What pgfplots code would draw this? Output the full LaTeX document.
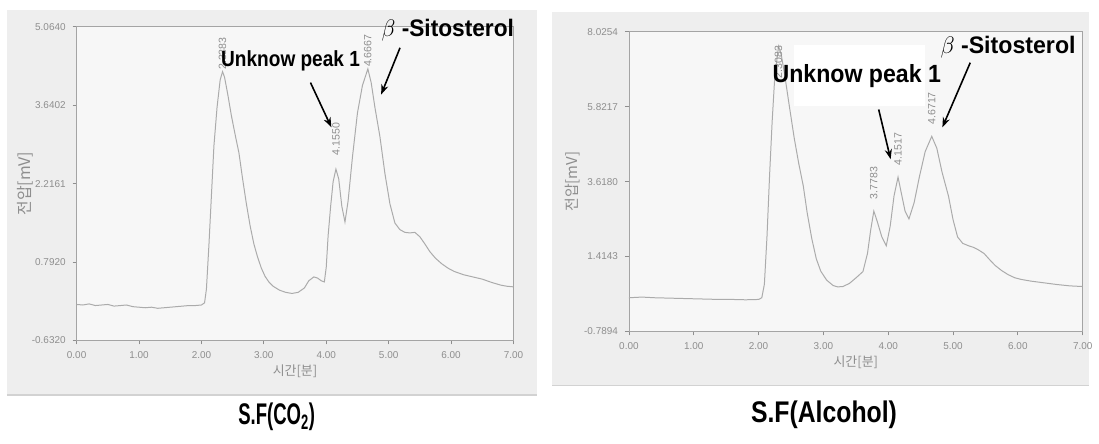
\documentclass[border=0pt]{standalone}
\usepackage{fontspec}
\setmainfont{Liberation Sans}
\newfontfamily\kr{Noto Sans CJK KR}
\usepackage{pgfplots}
\pgfplotsset{compat=1.18}
\usetikzlibrary{arrows.meta}

\definecolor{panel}{HTML}{EEEEEE}
\definecolor{plotbg}{HTML}{F7F7F7}
\definecolor{trace}{HTML}{ABABAB}
\definecolor{tickgray}{HTML}{8E8E8E}

\pgfplotsset{chrom/.style={
  scale only axis, anchor=south west,
  xmin=0, xmax=7, xtick={0,1,...,7},
  axis background/.style={fill=plotbg},
  axis line style={tickgray!80},
  tick style={tickgray, line width=0.4pt}, major tick length=2pt, tick align=outside,
  xtick pos=bottom, ytick pos=left,
  /pgf/number format/assume math mode=true,
  ticklabel style={font=\fontsize{5}{6}\selectfont, text=tickgray},
  xticklabel style={/pgf/number format/fixed, /pgf/number format/fixed zerofill, /pgf/number format/precision=2},
  yticklabel style={/pgf/number format/fixed, /pgf/number format/fixed zerofill, /pgf/number format/precision=4},
  xlabel={\kr 시간[분]}, ylabel={\kr 전압[mV]},
  label style={text=tickgray},
  xlabel style={font=\fontsize{6.5}{7}\selectfont, at={(axis description cs:0.5,0)}, anchor=center, yshift=-15.5pt},
  clip=false,
}}

% retention-time labels, written upwards from the point given
\tikzset{peaklbl/.style={rotate=90, anchor=west, font=\fontsize{5.3}{6}\selectfont, text=tickgray, inner sep=0.8pt}}

\begin{document}
\begin{tikzpicture}
% page-sized frame, measured in half points from the top-left corner
\begin{scope}[x=0.5pt, y=-0.5pt, yshift=223pt]
\path (0,0) rectangle (1099,446);
\fill[panel] (7,10) rectangle (540,397);
\draw[gray!35, line width=0.6pt] (7,397) -- (540,397);
\fill[panel] (555,12) rectangle (1094,387);
\draw[gray!35, line width=0.6pt] (555,387) -- (1094,387);
\end{scope}

% S.F(CO2)
\begin{axis}[chrom, at={(38.5pt,52pt)}, width=219.5pt, height=157.5pt,
  ymin=-0.632, ymax=5.064, ytick={-0.632,0.792,2.2161,3.6402,5.064},
  ylabel style={font=\fontsize{8}{9}\selectfont, at={(axis description cs:-0.118,0.5)}, anchor=center}]
\addplot[trace, line width=0.5pt] coordinates {
(0.00,0.02) (0.10,0.01) (0.20,0.03) (0.30,0.00) (0.40,0.01) (0.50,0.02)
(0.60,-0.01) (0.70,0.00) (0.80,0.01) (0.90,-0.02) (1.00,-0.03) (1.10,-0.04)
(1.20,-0.03) (1.30,-0.05) (1.40,-0.04) (1.50,-0.03) (1.60,-0.02) (1.70,-0.01)
(1.80,0.00) (1.90,0.00) (2.00,0.01) (2.05,0.05) (2.08,0.30) (2.12,1.10)
(2.16,2.00) (2.20,2.90) (2.25,3.60) (2.30,4.10) (2.3383,4.25) (2.37,4.15)
(2.42,3.85) (2.48,3.45) (2.55,3.05) (2.60,2.78) (2.66,2.30) (2.72,1.85)
(2.78,1.45) (2.84,1.12) (2.90,0.88) (2.96,0.68) (3.02,0.53) (3.08,0.43)
(3.15,0.35) (3.25,0.28) (3.35,0.24) (3.45,0.22) (3.55,0.24) (3.65,0.32)
(3.72,0.45) (3.80,0.52) (3.86,0.50) (3.92,0.45) (3.97,0.43) (4.00,0.70)
(4.03,1.27) (4.07,1.80) (4.11,2.25) (4.155,2.48) (4.20,2.30) (4.25,1.80)
(4.30,1.52) (4.35,1.90) (4.42,2.70) (4.50,3.50) (4.58,4.00) (4.6667,4.30)
(4.72,4.05) (4.78,3.60) (4.86,3.07) (4.94,2.40) (5.02,1.85) (5.10,1.50)
(5.18,1.38) (5.26,1.33) (5.34,1.32) (5.42,1.33) (5.50,1.25) (5.58,1.12)
(5.66,0.98) (5.75,0.86) (5.85,0.76) (5.95,0.68) (6.05,0.62) (6.20,0.56)
(6.35,0.52) (6.50,0.48) (6.65,0.42) (6.80,0.37) (6.90,0.35) (7.00,0.34)};
\node[peaklbl] at (axis cs:2.3383,4.25) {2.3383};
\node[peaklbl, xshift=6pt] at (axis cs:4.155,2.48) {4.1550};
\node[peaklbl] at (axis cs:4.6667,4.30) {4.6667};
\end{axis}

% S.F(Alcohol)
\begin{axis}[chrom, at={(316pt,56.5pt)}, width=228pt, height=150.5pt,
  ymin=-0.7894, ymax=8.0254, ytick={-0.7894,1.4143,3.618,5.8217,8.0254},
  ylabel style={font=\fontsize{7.5}{9}\selectfont, at={(axis description cs:-0.125,0.5)}, anchor=center}]
\addplot[trace, line width=0.5pt] coordinates {
(0.00,0.20) (0.20,0.22) (0.40,0.20) (0.60,0.19) (0.80,0.18) (1.00,0.17)
(1.20,0.16) (1.40,0.15) (1.60,0.15) (1.80,0.14) (2.00,0.15) (2.05,0.20)
(2.09,0.60) (2.13,2.00) (2.17,3.80) (2.21,5.40) (2.25,6.70) (2.3083,7.60)
(2.35,7.35) (2.40,6.80) (2.47,5.90) (2.55,4.90) (2.62,4.15) (2.69,3.49)
(2.75,2.70) (2.82,1.95) (2.89,1.35) (2.96,0.98) (3.05,0.72) (3.15,0.56)
(3.22,0.52) (3.30,0.53) (3.40,0.62) (3.50,0.78) (3.61,0.97) (3.68,1.50)
(3.73,2.20) (3.7783,2.75) (3.83,2.45) (3.90,2.00) (3.97,1.73) (4.03,2.30)
(4.09,3.20) (4.1517,3.75) (4.20,3.30) (4.26,2.75) (4.32,2.52) (4.40,3.00)
(4.48,3.75) (4.57,4.50) (4.6717,4.95) (4.75,4.60) (4.83,3.90) (4.93,3.19)
(5.00,2.50) (5.07,1.99) (5.15,1.80) (5.24,1.73) (5.32,1.68) (5.40,1.60)
(5.48,1.50) (5.56,1.33) (5.65,1.15) (5.75,1.00) (5.85,0.88) (5.95,0.79)
(6.05,0.74) (6.20,0.69) (6.40,0.64) (6.60,0.59) (6.80,0.55) (7.00,0.53)};
\node[peaklbl, xshift=-17pt] at (axis cs:2.3083,7.60) {2.3083};
\node[peaklbl, xshift=5pt] at (axis cs:3.7783,2.75) {3.7783};
\node[peaklbl, xshift=5pt] at (axis cs:4.1517,3.75) {4.1517};
\node[peaklbl, xshift=5pt] at (axis cs:4.6717,4.95) {4.6717};
\end{axis}

% peak annotations and captions
\begin{scope}[x=0.5pt, y=-0.5pt, yshift=223pt]
\fill[white] (798,45) rectangle (930,107);
\tikzset{ann/.style={font=\bfseries, inner sep=0pt}}
\node[ann] at (292,61) {\scalebox{0.87}[1]{\fontsize{11}{13}\selectfont Unknow peak 1}};
\node[ann] at (450,30) {\scalebox{0.95}[1]{\fontsize{12}{14}\selectfont $\beta$ -Sitosterol}};
\node[ann] at (861,76) {\scalebox{0.93}[1]{\fontsize{12.5}{14}\selectfont Unknow peak 1}};
\node[ann] at (1013,47) {\scalebox{0.97}[1]{\fontsize{12}{14}\selectfont $\beta$ -Sitosterol}};
\tikzset{pointer/.style={-{Stealth[length=5pt,width=3.6pt]}, line width=0.8pt}}
\draw[pointer] (312,83) -- (333,128);
\draw[pointer] (402,48) -- (383,95);
\draw[pointer] (883,110) -- (895,160);
\draw[pointer] (975,63) -- (947,128);
\node[font=\bfseries, inner sep=0pt] at (278,419) {\scalebox{0.62}[1]{\fontsize{15}{17}\selectfont S.F(CO\textsubscript{2})}};
\node[font=\bfseries, inner sep=0pt] at (828,417) {\scalebox{0.83}[1]{\fontsize{15}{17}\selectfont S.F(Alcohol)}};
\end{scope}
\end{tikzpicture}
\end{document}
